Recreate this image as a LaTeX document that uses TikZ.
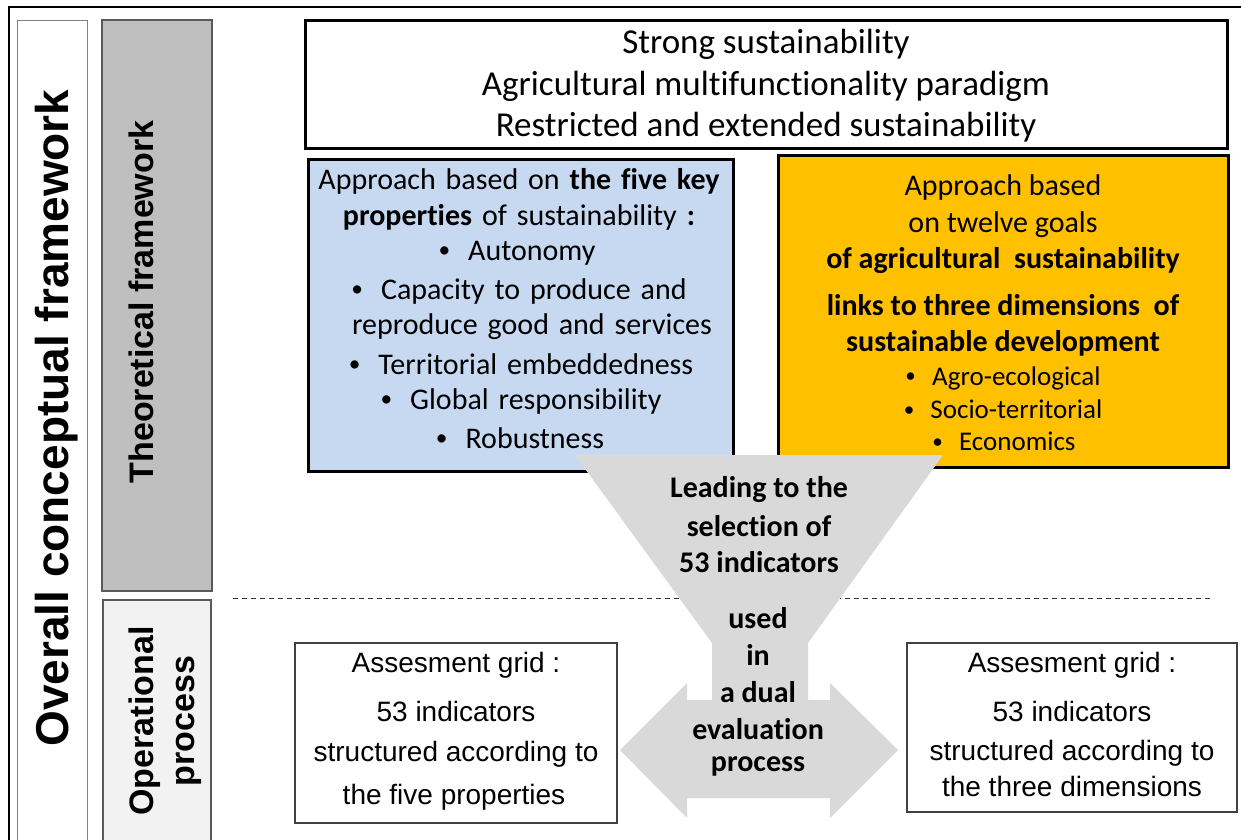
\documentclass[tikz,border=0pt]{standalone}
\usepackage{fontspec}
\usepackage{graphicx}
\setmainfont{Carlito}[Ligatures={NoCommon}]
\newfontfamily\arialf{Liberation Sans}
\usetikzlibrary{fit}
\definecolor{bluebox}{HTML}{C6D9F1}
\definecolor{orangebox}{HTML}{FFC000}
\definecolor{funnelgray}{HTML}{D9D9D9}
\definecolor{bargray}{HTML}{BFBFBF}
\definecolor{oppale}{HTML}{F2F2F2}
\definecolor{edgegray}{HTML}{595959}
\newcommand{\fsz}[1]{\fontsize{#1}{#1}\selectfont}
\newcommand{\bul}{\raisebox{0.08em}{\scalebox{0.78}{\textbullet}}\hspace{0.6em}}
\begin{document}
\begin{tikzpicture}[x=1pt,y=-1pt,
  txt/.style={inner sep=0pt, anchor=center},
  topline/.style={txt, font=\fsz{35}},
  blueline/.style={txt, font={\fsz{30}\spaceskip=0.33em plus 0.1em\relax}},
  orline/.style={txt, font=\fsz{30}},
  orbold/.style={txt, font=\fsz{30}\bfseries},
  orbul/.style={txt, font=\fsz{27}},
  funline/.style={txt, font=\fsz{30}\bfseries},
  gridline/.style={txt, font=\arialf\fsz{28}},
  thickbox/.style={draw=black, line width=3pt, inner sep=0pt},
  thinbox/.style={draw=black!75, line width=1.2pt, inner sep=0pt, fill=white},
  sidelabel/.style={inner sep=0pt, rotate=90, anchor=base, font=\arialf\bfseries\fsz{34}}
]
\useasboundingbox (0,0) rectangle (1241,839);
\fill[white] (0,0) rectangle (1241,839);

% outer frame
\draw[line width=2.2pt] (1245,7) -- (9,7) -- (9,845);

% left column boxes
\node[draw=black!50, line width=1pt, inner sep=0pt, fit={(17,20) (87,850)}] (overallbox) {};
\node[draw=edgegray, fill=bargray, line width=1.5pt, inner sep=0pt, fit={(102,20) (212,591)}] (theobox) {};
\node[draw=edgegray, fill=oppale, line width=1.5pt, inner sep=0pt, fit={(103,600) (211,850)}] (opbox) {};

\node[inner sep=0pt, rotate=90, anchor=base, font=\arialf\bfseries\fsz{46}] (overall) at (68,418) {Overall conceptual framework};
\node[sidelabel] (theo) at (153,302) {Theoretical framework};
\node[inner sep=0pt, rotate=90, anchor=center, align=center, font=\arialf\bfseries\fontsize{34}{41}\selectfont] (op) at (165,721) {Operational\\process};

% top box
\node[thickbox, fit={(305,20) (1227,148)}] (topbox) {};
\node[topline] (t1) at (766,44) {Strong sustainability};
\node[topline] (t2) at (766,86) {Agricultural multifunctionality paradigm};
\node[topline] (t3) at (766,127) {Restricted and extended sustainability};

% blue box
\node[thickbox, fill=bluebox, fit={(308,159) (733,471)}] (bluebx) {};
\node[blueline] (b1) at (519,181) {Approach based on \textbf{the five key}};
\node[blueline] (b2) at (519,217) {\textbf{properties} of sustainability \textbf{:}};
\node[blueline] (b3) at (517,253) {\bul Autonomy};
\node[blueline] (b4) at (519,291) {\bul Capacity to produce and};
\node[blueline] (b5) at (532,327) {reproduce good and services};
\node[blueline] (b6) at (521,364) {\bul Territorial embeddedness};
\node[blueline] (b7) at (521,401) {\bul Global responsibility};
\node[blueline] (b8) at (520,438) {\bul Robustness};

% orange box
\node[thickbox, fill=orangebox, fit={(778,155) (1228,467)}] (orbx) {};
\node[orline] (o1) at (1003,187) {Approach based};
\node[orline] (o2) at (1003,225) {on twelve goals};
\node[orbold] (o3) at (1003,261) {of agricultural\ \ sustainability};
\node[orbold] (o4) at (1003,305) {links to three dimensions\ \ of};
\node[orbold] (o5) at (1003,343) {sustainable\ development};
\node[orbul] (o6) at (1003,378) {\bul Agro-ecological};
\node[orbul] (o7) at (1003,409) {\bul Socio-territorial};
\node[orbul] (o8) at (1004,441) {\bul Economics};

% dashed separator
\coordinate (dl) at (233,598);
\coordinate (dr) at (1210,598);
\draw[black!80, line width=1pt, dash pattern=on 5pt off 4pt] (dl) -- (dr);

% funnel and double arrow
\fill[funnelgray] (575,455) -- (943,455) -- (808,643) -- (808,700) -- (830,700) -- (830,683)
  -- (898,750) -- (830,818) -- (830,798) -- (687,798) -- (687,818) -- (620,750)
  -- (687,683) -- (687,700) -- (712,700) -- (712,643) -- cycle;
\node[funline] (f1) at (759,490) {Leading to the};
\node[funline] (f2) at (759,526) {selection of};
\node[funline] (f3) at (759,562) {53 indicators};
\node[funline] (f4) at (758,618) {used};
\node[funline] (f5) at (758,655) {in};
\node[funline] (f6) at (758,692) {a dual};
\node[funline] (f7) at (758,729) {evaluation};
\node[funline] (f8) at (758,766) {process};

% bottom boxes
\node[thinbox, fit={(295,643) (617,823)}] (gridl) {};
\node[gridline] (l1) at (456,665) {Assesment grid :};
\node[gridline] (l2) at (456,711) {53 indicators};
\node[gridline] (l3) at (456,754) {structured according to};
\node[gridline] (l4) at (454,797) {the five properties};

\node[thinbox, fit={(907,643) (1237,812)}] (gridr) {};
\node[gridline] (r1) at (1072,665) {Assesment grid :};
\node[gridline] (r2) at (1072,711) {53 indicators};
\node[gridline] (r3) at (1072,753) {structured according to};
\node[gridline] (r4) at (1072,786) {the three dimensions};
\end{tikzpicture}
\end{document}
